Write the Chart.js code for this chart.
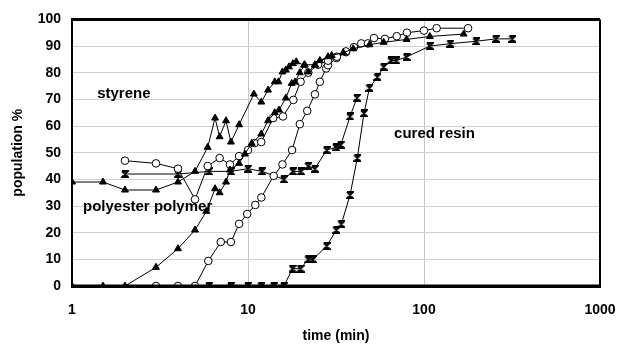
<!DOCTYPE html>
<html>
<head>
<meta charset="utf-8">
<script src="https://cdn.jsdelivr.net/npm/chart.js@4/dist/chart.umd.min.js"></script>
<style>
  html, body { margin: 0; padding: 0; background: #fff; }
  #wrap { width: 617px; height: 345px; }
</style>
</head>
<body>
<div id="wrap"><canvas id="popChart" width="617" height="345"></canvas></div>
<script>
// tick labels
const xTicks = [1, 10, 100, 1000];
const yTicks = [0, 10, 20, 30, 40, 50, 60, 70, 80, 90, 100];

// filled triangles, upper curve
const triUpT = [1, 1.5, 2, 3, 4, 5, 5.9, 6.5, 6.9, 7.5, 8, 8.9, 10.8, 11.9, 13, 14.2, 14.9, 15.7, 16.4, 17.1, 18, 18.8, 20.8, 22, 24, 25.6, 29.9, 34.8, 39.6, 49, 59, 79.6, 108, 168];
const triUpY = [39, 39, 36, 36, 39, 43, 52, 63, 56, 62, 54, 60.5, 72, 69, 73.5, 76.6, 76.6, 80.3, 81, 82.2, 83.4, 84.1, 82.8, 80.3, 82.8, 84.6, 86.5, 87.5, 89, 90.5, 91.4, 92.5, 93.6, 94.5];

// filled triangles, lower curve
const triLowT = [1, 1.5, 2, 3, 4, 5, 5.8, 6.5, 6.9, 7.5, 7.9, 8.9, 9.6, 10.5, 11.9, 13, 14.2, 15, 16.4, 17.7, 18.5, 19.7, 21, 24, 28.5];
const triLowY = [0, 0, 0, 7, 14, 21, 28, 36.5, 35, 39, 43.5, 46, 49.5, 53.5, 57, 62, 65, 66, 70.5, 76, 76.5, 80, 83, 83, 86];

// open circles, upper curve
const circUpT = [2, 3, 4, 5, 5.9, 6.9, 7.9, 8.9, 10, 10.9, 11.9, 13.9, 15.8, 18.1, 19.9, 22, 25, 28.5, 32, 36, 40, 44, 48, 52, 60, 70, 80, 100, 118, 178];
const circUpY = [47, 46, 44, 32.5, 45, 48, 45.6, 48.7, 51, 53.6, 54, 63, 63.6, 69.8, 76.6, 80, 83, 84.5, 86, 88, 89.6, 91, 91, 93, 92.7, 93.7, 95, 95.8, 96.7, 96.7];

// open circles, lower curve
const circLowT = [3, 4, 5, 5.95, 7, 8, 8.9, 9.9, 11, 11.9, 14, 15.7, 17.8, 19.7, 21.7, 24, 25.6, 27.8, 28.5, 31.8, 36];
const circLowY = [0, 0, 0, 9.4, 16.5, 16.5, 23.3, 27, 30.4, 33.2, 41.3, 45.6, 51, 60.7, 65.7, 71.9, 76.6, 81.6, 82.8, 85.5, 87.7];

// hourglass marks, upper curve
const starUpT = [2, 4, 6, 8, 10, 12, 16, 18, 20, 22, 24, 28, 31.6, 33.7, 38, 41.6];
const starUpY = [42, 42, 43, 43, 44, 43, 40, 43, 43, 45, 44, 51, 52, 53, 63.6, 70.6];

// hourglass marks, lower curve (cured resin)
const starLowT = [6, 8, 10, 11.9, 14, 16, 17.9, 19.9, 22, 23.4, 28, 31.8, 33.9, 38, 41.8, 45.6, 49, 54.3, 59, 64.9, 69.6, 79.6, 108, 141, 198, 256, 318];
const starLowY = [0, 0, 0, 0, 0, 0, 6.5, 6.5, 10, 10, 15, 21, 23.2, 34.1, 48, 64.8, 74.3, 78.4, 82.2, 84.6, 84.6, 85.9, 90, 90.9, 91.8, 92.7, 92.7];

// text labels inside the plot
const notes = [
    { text: 'styrene', t: 1.39, v: 72 },
    { text: 'polyester polymer', t: 1.155, v: 29.5 },
    { text: 'cured resin', t: 67.6, v: 57 }
];

const pts = (xs, ys) => xs.map((x, i) => ({ x: x, y: ys[i] }));

// hourglass marker drawn once on a small canvas
function hourglass() {
    const c = document.createElement('canvas');
    c.width = 8; c.height = 8;
    const g = c.getContext('2d');
    g.strokeStyle = '#000';
    g.lineWidth = 1.8;
    g.beginPath();
    g.moveTo(1, 1); g.lineTo(7, 1); g.lineTo(1, 7); g.lineTo(7, 7); g.lineTo(1, 1);
    g.stroke();
    return c;
}
const hg = hourglass();

const base = { showLine: true, borderColor: '#000', borderWidth: 1, pointBorderColor: '#000' };

const frame = {
    id: 'frame',
    afterDraw(chart) {
        const a = chart.chartArea, g = chart.ctx;
        g.save();
        g.strokeStyle = '#000';
        g.lineWidth = 3;
        g.beginPath(); g.moveTo(a.left, a.top); g.lineTo(a.right, a.top); g.stroke();
        g.beginPath(); g.moveTo(a.left, a.bottom); g.lineTo(a.right, a.bottom); g.stroke();
        g.lineWidth = 2;
        g.beginPath(); g.moveTo(a.left, a.top); g.lineTo(a.left, a.bottom); g.stroke();
        g.beginPath(); g.moveTo(a.right, a.top); g.lineTo(a.right, a.bottom); g.stroke();
        g.restore();
    }
};

const labels = {
    id: 'labels',
    afterDatasetsDraw(chart) {
        const g = chart.ctx, xs = chart.scales.x, ys = chart.scales.y;
        g.save();
        g.font = 'bold 15px "Liberation Sans", Arial, sans-serif';
        g.fillStyle = '#000';
        g.textBaseline = 'middle';
        notes.forEach(n => g.fillText(n.text, xs.getPixelForValue(n.t), ys.getPixelForValue(n.v)));
        g.restore();
    }
};

const tickFont = { family: '"Liberation Sans", Arial, sans-serif', size: 14, weight: 'bold' };

new Chart(document.getElementById('popChart'), {
    type: 'scatter',
    data: {
        datasets: [
            { ...base, data: pts(triUpT, triUpY), pointStyle: 'triangle', pointRadius: 4, pointBackgroundColor: '#000' },
            { ...base, data: pts(triLowT, triLowY), pointStyle: 'triangle', pointRadius: 4, pointBackgroundColor: '#000' },
            { ...base, data: pts(circUpT, circUpY), pointStyle: 'circle', pointRadius: 3.8, pointBackgroundColor: '#fff' },
            { ...base, data: pts(circLowT, circLowY), pointStyle: 'circle', pointRadius: 3.8, pointBackgroundColor: '#fff' },
            { ...base, data: pts(starUpT, starUpY), pointStyle: hg },
            { ...base, data: pts(starLowT, starLowY), pointStyle: hg }
        ]
    },
    options: {
        responsive: false,
        animation: false,
        events: [],
        layout: { padding: { top: 17, right: 17, left: 0, bottom: 0 } },
        plugins: { legend: { display: false }, tooltip: { enabled: false } },
        scales: {
            x: {
                type: 'logarithmic',
                min: 1,
                max: 1000,
                afterBuildTicks: s => { s.ticks = xTicks.map(v => ({ value: v })); },
                afterFit: s => { s.height = 59; s.paddingLeft = 0; s.paddingRight = 0; },
                ticks: { color: '#000', font: tickFont, padding: 16, autoSkip: false, maxRotation: 0, callback: v => String(v) },
                grid: { color: '#c4c4c4', drawTicks: false },
                border: { color: '#000', width: 3 },
                title: { display: true, text: 'time (min)', color: '#000', font: tickFont, padding: { top: 5, bottom: 0 } }
            },
            y: {
                min: 0,
                max: 100,
                afterBuildTicks: s => { s.ticks = yTicks.map(v => ({ value: v })); },
                afterFit: s => { s.width = 72; },
                ticks: { color: '#000', font: tickFont, padding: 11 },
                grid: { color: '#d0d0d0', drawTicks: false, borderDash: [8, 5] },
                border: { color: '#000', width: 2 },
                title: { display: true, text: 'population %', color: '#000', font: tickFont, padding: { top: 10, bottom: 0 } }
            }
        }
    },
    plugins: [frame, labels]
});
</script>
</body>
</html>
